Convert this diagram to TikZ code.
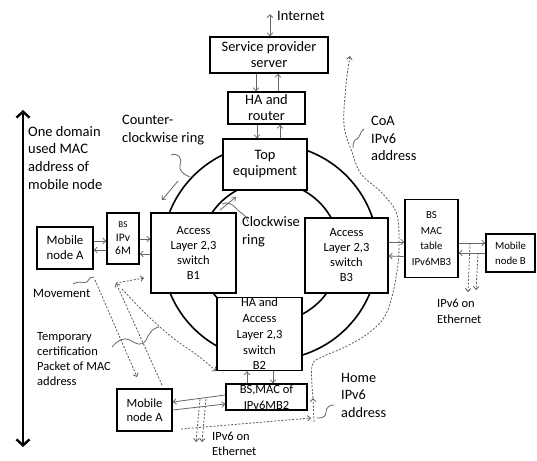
\documentclass[tikz,border=0pt]{standalone}
\usepackage{fontspec}
\setmainfont{Carlito}
\usetikzlibrary{arrows.meta,calc}
\begin{document}
\begin{tikzpicture}[x=1pt,y=-1pt,
  box/.style={draw=black, line width=1.3pt, fill=white, inner sep=0pt, align=center},
  big/.style={font=\fontsize{14.4}{16}\selectfont},
  mid/.style={font=\fontsize{12.5}{15}\selectfont},
  lab/.style={inner sep=0pt, align=left, anchor=north west},
  garrow/.style={draw=black!60, line width=0.8pt, -{Straight Barb[length=3pt,width=5.5pt]}},
  gdbl/.style={draw=black!60, line width=0.8pt, {Straight Barb[length=3pt,width=5.5pt]}-{Straight Barb[length=3pt,width=5.5pt]}},
  dotl/.style={draw=black!65, line width=0.8pt, dash pattern=on 2pt off 1.6pt, -{Straight Barb[length=3pt,width=5.5pt]}},
  squig/.style={draw=black!60, line width=0.8pt},
  ring/.style={draw=black, line width=1.6pt},
  bigarrow/.style={draw=black, line width=2.4pt, {Straight Barb[length=6pt,width=13pt]}-{Straight Barb[length=6pt,width=13pt]}}
]
\useasboundingbox (0,0) rectangle (537,460);

% rings
\draw[ring] (270,252) circle (108pt);
\draw[ring] (270,252) circle (70pt);

% boxes
\node[box, big, minimum width=118pt, minimum height=36pt] (srv) at (269,55) {Service provider\\server};
\node[box, big, minimum width=77pt, minimum height=32pt] (ha) at (266.5,108) {HA and\\router};
\node[box, big, minimum width=84pt, minimum height=51pt] (top) at (265,164.5) {Top\\equipment};
\node[box, mid, minimum width=85pt, minimum height=80pt] (b1) at (193.5,253) {Access\\Layer 2,3\\switch\\B1};
\node[box, mid, minimum width=83pt, minimum height=75pt] (b3) at (346.5,255.5) {Access\\Layer 2,3\\switch\\B3};
\node[box, font=\fontsize{12.5}{15.7}\selectfont, minimum width=85pt, minimum height=73pt] (b2) at (259.5,334) {HA and\\Access\\Layer 2,3\\switch\\B2};
\node[box, minimum width=81pt, minimum height=26pt] (bsb2) at (266.5,397) {};
\node[inner sep=0pt, align=center, font=\fontsize{12.5}{16.5}\selectfont] (bsb2t) at (266.5,397.5) {BS,MAC of\\IPv6MB2};
\node[box, font=\fontsize{12.8}{15}\selectfont, minimum width=56pt, minimum height=42pt] (mna) at (65,248) {Mobile\\node A};
\node[box, font=\fontsize{11.5}{13.5}\selectfont, minimum width=32pt, minimum height=51pt] (bsa) at (123,238.5) {{\fontsize{9}{11}\selectfont BS}\\IPv\\6M};
\node[box, font=\fontsize{10.8}{15.8}\selectfont, minimum width=53pt, minimum height=78pt] (bsb3) at (431.5,238.5) {BS\\MAC\\table\\IPv6MB3};
\node[box, font=\fontsize{10.8}{15}\selectfont, minimum width=49pt, minimum height=38pt] (mnb) at (510.5,253) {Mobile\\node B};
\node[box, font=\fontsize{12.5}{14.5}\selectfont, minimum width=55pt, minimum height=42pt] (mna2) at (144.5,410) {Mobile\\node A};

% labels
\node[inner sep=0pt, anchor=west, font=\fontsize{14.4}{16}\selectfont] (linet) at (277,16) {Internet};
\node[lab, font=\fontsize{14.5}{17.6}\selectfont] (ldom) at (28,126) {One domain\\used MAC\\address of\\mobile node};
\node[lab, font=\fontsize{14.4}{18}\selectfont] (lccw) at (122,115) {Counter-\\clockwise ring};
\node[lab, font=\fontsize{14.4}{18.5}\selectfont] (lcw) at (242,216) {Clockwise\\ring};
\node[lab, font=\fontsize{14.4}{17.5}\selectfont] (lcoa) at (371,116) {CoA\\IPv6\\address};
\node[inner sep=0pt, anchor=west, font=\fontsize{12.8}{15}\selectfont] (lmov) at (33,293) {Movement};
\node[lab, font=\fontsize{12.5}{15}\selectfont] (ltmp) at (37,332) {Temporary\\certification\\Packet of MAC\\address};
\node[lab, font=\fontsize{14.3}{17.5}\selectfont] (lhome) at (341,373) {Home\\IPv6\\address};
\node[lab, font=\fontsize{12.5}{15.5}\selectfont] (leth1) at (437,299) {IPv6 on\\Ethernet};
\node[lab, font=\fontsize{12.5}{14.5}\selectfont] (leth2) at (212,432) {IPv6 on\\Ethernet};

% big left arrow
\coordinate (dtop) at (23,110);
\coordinate (dbot) at (23,447);
\draw[bigarrow] (dbot) -- (dtop);

% internet
\coordinate (inet) at (270,14);
\draw[gdbl] (inet) -- (inet |- srv.north);

% vertical arrows
\draw[garrow] ([xshift=-13pt]srv.south) -- ([xshift=-10.5pt]ha.north);
\draw[garrow] ([xshift=11.5pt]ha.north) -- ([xshift=9pt]srv.south);
\draw[garrow] ([xshift=-9.5pt]ha.south) -- ([xshift=-8pt]top.north);
\draw[garrow] ([xshift=15pt]top.north) -- ([xshift=13.5pt]ha.south);
\draw[garrow] ([xshift=-19.5pt]bsb2.north) -- ([xshift=-12.5pt]b2.south);
\draw[garrow] ([xshift=13.5pt]b2.south) -- ([xshift=6.5pt]bsb2.north);

% horizontal arrows
\draw[garrow] ([yshift=7pt]mna.east) -- ([yshift=-2.5pt]bsa.west);
\draw[garrow] ([yshift=-11.5pt]bsa.west) -- ([yshift=-2pt]mna.east);
\draw[garrow] ([yshift=-0.5pt]bsa.east) -- ([yshift=14pt]b1.west);
\draw[garrow] ([yshift=-1pt]b1.west) -- ([yshift=-15.5pt]bsa.east);
\draw[garrow] ([yshift=13.5pt]b3.east) -- ([yshift=-3.5pt]bsb3.west);
\draw[garrow] ([yshift=-18pt]bsb3.west) -- ([yshift=-0.5pt]b3.east);
\draw[garrow] ([yshift=-4.5pt]bsb3.east) -- ([yshift=10pt]mnb.west);
\draw[garrow] ([yshift=0pt]mnb.west) -- ([yshift=-14.5pt]bsb3.east);
\draw[garrow] ([yshift=2pt]bsb2.west) -- ([yshift=8pt]mna2.east);
\draw[garrow] ([yshift=0pt]mna2.east) -- ([yshift=-7pt]bsb2.west);

% ethernet dotted arrows
\coordinate (e1s) at (200,399); \coordinate (e1e) at (196,442);
\coordinate (e2s) at (206,399); \coordinate (e2e) at (202,442);
\draw[dotl] (e1s) -- (e1e);
\draw[dotl] (e2s) -- (e2e);
\coordinate (e3s) at (470,243); \coordinate (e3e) at (468,292);
\coordinate (e4s) at (478,253); \coordinate (e4e) at (476,290);
\draw[dotl] (e3s) -- (e3e);
\draw[dotl] (e4s) -- (e4e);

% home / CoA paths
\coordinate (hs) at (181,429); \coordinate (hm) at (311,418);
\draw[dotl] (hs) -- (hm);
\coordinate (vb) at (314,422); \coordinate (vm) at (313,398);
\draw[dotl] (vb) -- (vm);
\draw[dotl] plot[smooth, tension=0.6] coordinates {(vm) (312,366) (322,357) (345,347) (370,332) (387,312) (397,272) (399,238) (396,212) (381,192) (361,174) (352,152) (344,125) (346,85) (350,56)};

% movement dotted arrows
\coordinate (m1s) at (95,280); \coordinate (m1e) at (137,377);
\draw[dotl] (m1s) -- (m1e);
\coordinate (m2s) at (162,385); \coordinate (m2e) at (116,283);
\draw[dotl] (m2s) -- (m2e);
\coordinate (m3e) at (144,278);
\draw[dotl] (m2e) -- (m3e);
\draw[dotl] plot[smooth, tension=0.6] coordinates {(122,289) (147,315) (173,338) (197,355) (b2.south west)};

% ring arrows
\coordinate (ccws) at (178,181); \coordinate (ccwe) at (162,200);
\draw[garrow] (ccws) -- (ccwe);
\coordinate (cws) at (220,210); \coordinate (cwe) at (236,197);
\draw[garrow] (cws) -- (cwe);

% squiggles
\draw[squig] (171,155) .. controls (178,152) and (183,159) .. (180,165) .. controls (178,171) and (185,175) .. (190,177);
\draw[squig] (222,204) .. controls (231,200) and (236,209) .. (240,212) .. controls (245,215) and (247,218) .. (248,222);
\draw[squig] (364,129) .. controls (360,131) and (360,138) .. (357,139) .. controls (354,140) and (353,143) .. (353,148);
\draw[squig] (73,284) .. controls (80,280) and (84,284) .. (87,282) .. controls (90,278) and (91,276) .. (94,277);
\draw[squig] (112,347) .. controls (118,340) and (124,337) .. (130,340) .. controls (136,344) and (142,347) .. (146,340) .. controls (150,332) and (153,328) .. (159,327);
\draw[squig] (317,418) .. controls (324,418) and (326,416) .. (326,412) .. controls (326,407) and (330,405) .. (334,405);
\end{tikzpicture}
\end{document}
